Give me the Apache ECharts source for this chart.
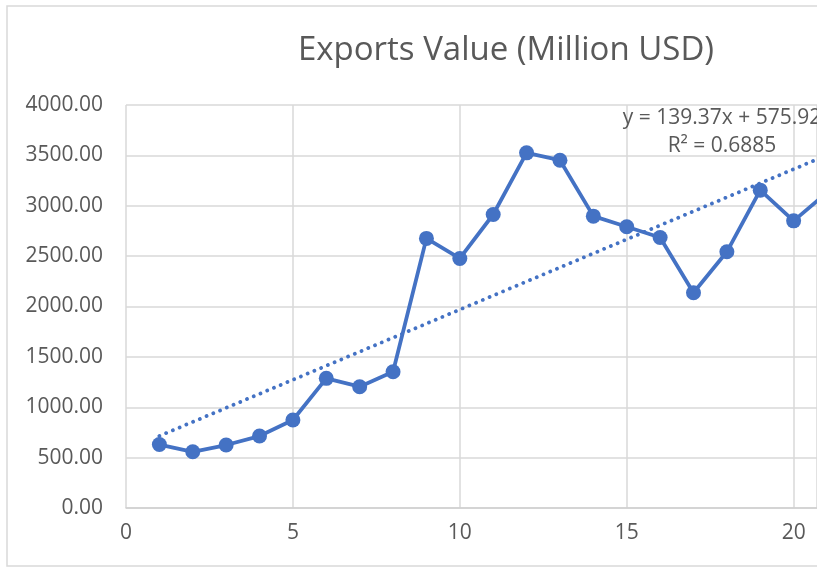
<!DOCTYPE html>
<html>
<head>
<meta charset="utf-8">
<script src="https://cdn.jsdelivr.net/npm/echarts@6/dist/echarts.min.js"></script>
<style>
  html, body { margin: 0; padding: 0; background: #fff; }
  #main { width: 834px; height: 568px; }
</style>
</head>
<body>
<div id="main"></div>
<script>
// period index (x) and exports value in million USD (y)
const periods = [1, 2, 3, 4, 5, 6, 7, 8, 9, 10, 11, 12, 13, 14, 15, 16, 17, 18, 19, 20, 21];
const exportsValue = [630, 558, 625, 714, 873, 1287, 1204, 1352, 2676, 2477, 2913, 3525, 3452, 2897, 2791, 2685, 2136, 2543, 3155, 2850, 3130];

// linear trendline as printed on the chart
const trendSlope = 139.37;
const trendIntercept = 575.92;
const trendLabel = 'y = 139.37x + 575.92';
const r2Label = 'R² = 0.6885';

const xTicks = [0, 5, 10, 15, 20];
const yTicks = [0, 500, 1000, 1500, 2000, 2500, 3000, 3500, 4000];

const font = '"Open Sans", "Noto Sans", sans-serif';
const textColor = '#595959';
const blue = '#4472C4';

const points = periods.map((p, i) => [p, exportsValue[i]]);
const firstX = periods[0];
const lastX = periods[periods.length - 1];
const trendPoints = [
  [firstX, trendSlope * firstX + trendIntercept],
  [lastX, trendSlope * lastX + trendIntercept],
];

const chart = echarts.init(document.getElementById('main'));

const option = {
  animation: false,
  grid: { left: 126, right: 17, top: 105, bottom: 60 },
  xAxis: {
    type: 'value',
    min: xTicks[0],
    max: 20.7,
    interval: xTicks[1] - xTicks[0],
    axisLine: { show: true, lineStyle: { color: '#d0d0d0', width: 1.5 } },
    axisTick: { show: false },
    axisLabel: {
      color: textColor, fontFamily: font, fontSize: 21, margin: 15,
      showMaxLabel: false
    },
    splitLine: { show: true, lineStyle: { color: '#d9d9d9', width: 1.5 } }
  },
  yAxis: {
    type: 'value',
    min: yTicks[0],
    max: yTicks[yTicks.length - 1],
    interval: yTicks[1] - yTicks[0],
    axisLine: { show: false },
    axisTick: { show: false },
    axisLabel: {
      color: textColor, fontFamily: font, fontSize: 21, margin: 23,
      formatter: (v) => v.toFixed(2)
    },
    splitLine: { show: true, lineStyle: { color: '#d9d9d9', width: 1.5 } }
  },
  series: [
    {
      name: 'Trend',
      type: 'line',
      data: trendPoints,
      symbol: 'none',
      z: 1,
      lineStyle: { color: blue, width: 3.8, type: [0.01, 7.3], cap: 'round' }
    },
    {
      name: 'Exports Value',
      type: 'line',
      data: points,
      symbol: 'circle',
      symbolSize: 15,
      z: 2,
      itemStyle: { color: blue },
      lineStyle: { color: blue, width: 3.8 }
    }
  ],
  graphic: [
    {
      type: 'rect',
      shape: { x: 7, y: 6, width: 900, height: 560 },
      style: { fill: 'none', stroke: '#d9d9d9', lineWidth: 1.5 },
      silent: true
    },
    {
      type: 'text',
      x: 506, y: 51,
      style: {
        text: 'Exports Value (Million USD)', fill: textColor,
        font: '33px ' + font, textAlign: 'center', textVerticalAlign: 'middle'
      }
    },
    {
      type: 'text',
      x: 722, y: 118, z: 10,
      style: {
        text: trendLabel, fill: textColor,
        font: '21px ' + font, textAlign: 'center', textVerticalAlign: 'middle'
      }
    },
    {
      type: 'text',
      x: 722, y: 146, z: 10,
      style: {
        text: r2Label, fill: textColor,
        font: '21px ' + font, textAlign: 'center', textVerticalAlign: 'middle'
      }
    },
    {
      // the picture is cut at the right edge
      type: 'rect', z: 100,
      shape: { x: 817, y: 0, width: 20, height: 568 },
      style: { fill: '#fff' },
      silent: true
    }
  ]
};

chart.setOption(option);
</script>
</body>
</html>
